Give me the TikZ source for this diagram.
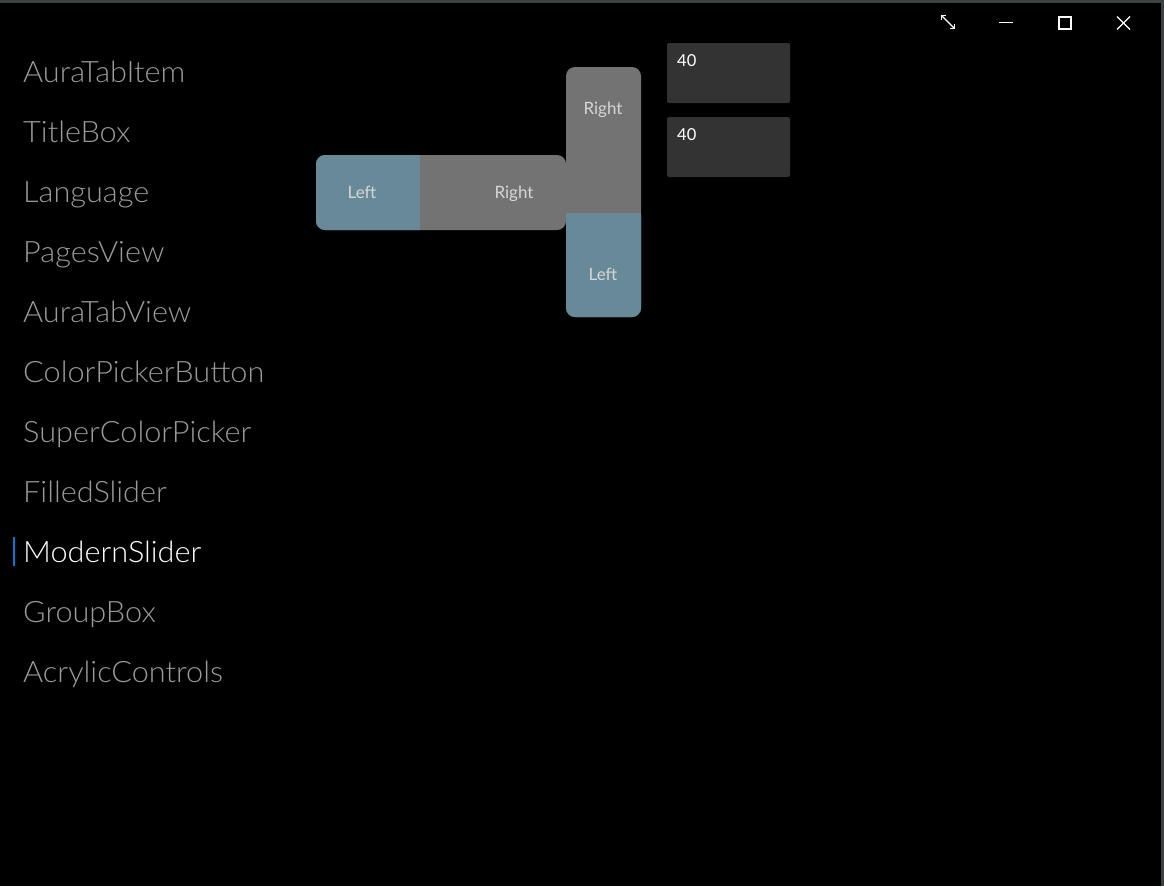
\documentclass[tikz,border=0pt]{standalone}
\usepackage{fontspec}
\usetikzlibrary{arrows.meta}
\setmainfont{Lato}
\newfontfamily\menufont{Lato Light}[FakeStretch=1.04]
\definecolor{bgc}{HTML}{000000}
\definecolor{framec}{HTML}{3A4242}
\definecolor{menugray}{HTML}{9A9A9A}
\definecolor{accent}{HTML}{0078D7}
\definecolor{sliderblue}{HTML}{688A98}
\definecolor{slidergray}{HTML}{737373}
\definecolor{slidertext}{HTML}{D6D6D6}
\definecolor{boxfill}{HTML}{333333}
\tikzset{
  menuitem/.style={anchor=base west, inner sep=0pt, text=menugray, font=\menufont\fontsize{29.5}{34}\selectfont},
  slidelabel/.style={anchor=base, inner sep=0pt, text=slidertext, font=\fontsize{17}{20}\selectfont},
  numbox/.style={fill=boxfill, rounded corners=2pt, draw=none},
  boxtext/.style={anchor=base west, inner sep=0pt, text=white, font=\fontsize{16.5}{20}\selectfont},
  iconline/.style={draw=white, line width=1.3pt}
}
\begin{document}
\begin{tikzpicture}[x=1pt,y=-1pt]
\useasboundingbox (0,0) rectangle (1164,886);
\fill[bgc] (0,0) rectangle (1164,886);
\fill[framec] (0,0) rectangle (1164,3);
\fill[framec] (1161,0) rectangle (1164,886);
% title bar icons
\coordinate (rs1) at (941,15); \coordinate (rs2) at (955,29);
\draw[iconline, {Straight Barb[length=3pt]}-{Straight Barb[length=3pt]}] (rs1) -- (rs2);
\coordinate (mn1) at (999,22.5); \coordinate (mn2) at (1013,22.5);
\draw[iconline] (mn1) -- (mn2);
\node[draw=white, line width=1.3pt, minimum width=12pt, minimum height=12pt, inner sep=0pt] (maxi) at (1065,23) {};
\coordinate (cl1) at (1117,16.5); \coordinate (cl2) at (1130,29.5);
\coordinate (cl3) at (1117,29.5); \coordinate (cl4) at (1130,16.5);
\draw[iconline] (cl1) -- (cl2);
\draw[iconline] (cl3) -- (cl4);
% menu
\node[menuitem] (m1) at (23,82) {AuraTabItem};
\node[menuitem] (m2) at (23,142) {TitleBox};
\node[menuitem] (m3) at (23,202) {Language};
\node[menuitem] (m4) at (23,262) {PagesView};
\node[menuitem] (m5) at (23,322) {AuraTabView};
\node[menuitem] (m6) at (23,382) {ColorPickerButton};
\node[menuitem] (m7) at (23,442) {SuperColorPicker};
\node[menuitem] (m8) at (23,502) {FilledSlider};
\node[menuitem, text=white] (m9) at (23,562) {ModernSlider};
\node[menuitem] (m10) at (23,622) {GroupBox};
\node[menuitem] (m11) at (23,682) {AcrylicControls};
\fill[accent] (13,537) rectangle (15,566);
% horizontal slider
\fill[slidergray, rounded corners=9pt] (316,155) rectangle (566,230);
\fill[sliderblue, rounded corners=9pt] (316,155) rectangle (430,230);
\fill[sliderblue] (410,155) rectangle (420,230);
\fill[slidergray] (420,155) rectangle (432,230);
\node[slidelabel] (hl) at (362,198) {Left};
\node[slidelabel] (hr) at (514,198) {Right};
% vertical slider
\fill[slidergray, rounded corners=9pt] (566,67) rectangle (641,317);
\fill[sliderblue, rounded corners=9pt] (566,205) rectangle (641,317);
\fill[slidergray] (566,200) rectangle (641,213);
\node[slidelabel] (vr) at (603,114) {Right};
\node[slidelabel] (vl) at (603,280) {Left};
% number boxes
\fill[numbox] (667,43) rectangle (790,103);
\node[boxtext] (b1) at (677,66) {40};
\fill[numbox] (667,117) rectangle (790,177);
\node[boxtext] (b2) at (677,140) {40};
\end{tikzpicture}
\end{document}
